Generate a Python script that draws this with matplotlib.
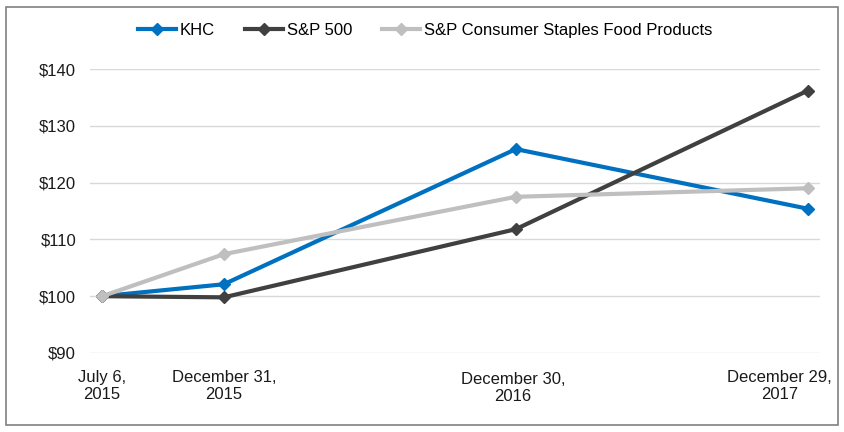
import matplotlib.pyplot as plt
from matplotlib.patches import Rectangle
from matplotlib.transforms import ScaledTranslation

plt.rcParams['font.family'] = ['Liberation Sans', 'DejaVu Sans']

# months after July 2015 (the original chart uses a monthly date axis)
months = [0, 5, 17, 29]
date_labels = ['July 6,\n2015', 'December 31,\n2015', 'December 30,\n2016', 'December 29,\n2017']

khc = [100, 102.1, 125.9, 115.4]
sp500 = [100, 99.8, 111.8, 136.2]
staples = [100, 107.4, 117.5, 119.0]

fig = plt.figure(figsize=(8.45, 4.32), dpi=100)
ax = fig.add_axes([90 / 845, 1 - 353 / 432, 730 / 845, 284 / 432])

ax.plot(months, khc, color='#0070C0', lw=3, marker='D', ms=6, label='KHC')
ax.plot(months, sp500, color='#404040', lw=3, marker='D', ms=6, label='S&P 500')
ax.plot(months, staples, color='#BFBFBF', lw=3, marker='D', ms=6,
        label='S&P Consumer Staples Food Products')

ax.set_xlim(-0.5, 29.5)
ax.set_ylim(90, 140)
ax.set_yticks(range(90, 141, 10))
ax.set_yticklabels(['$%d' % v for v in range(90, 141, 10)])
ax.set_xticks(months)
ax.set_xticklabels(date_labels)
ax.grid(axis='y', color='#D9D9D9', lw=1)
ax.set_axisbelow(True)
for s in ax.spines.values():
    s.set_visible(False)
ax.tick_params(length=0, labelsize=12, colors='#1a1a1a')
ax.tick_params(axis='y', pad=10)
ax.tick_params(axis='x', pad=12)

xl = ax.get_xticklabels()
xl[2].set_transform(xl[2].get_transform() + ScaledTranslation(-0.03, -0.02, fig.dpi_scale_trans))
xl[3].set_transform(xl[3].get_transform() + ScaledTranslation(-0.28, 0, fig.dpi_scale_trans))

fig.legend(loc='center', bbox_to_anchor=(0.503, 0.93), ncol=3, frameon=False,
           fontsize=12, handlelength=2.3, handletextpad=0.2, columnspacing=1.8)

fig.patches.append(Rectangle((6 / 845, 1 - 425 / 432), 832 / 845, 418 / 432,
                             transform=fig.transFigure, fill=False,
                             edgecolor='#808080', lw=1.2))

fig.savefig('out.png', dpi=100)
